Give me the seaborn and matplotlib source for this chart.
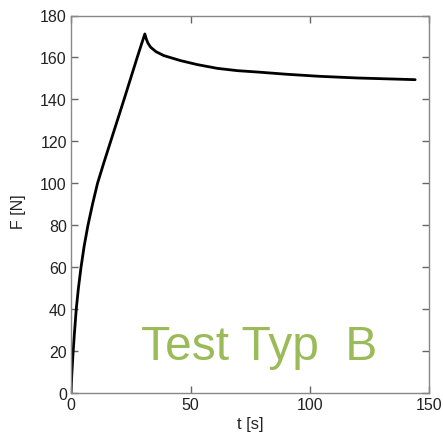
import pandas as pd
import seaborn as sns
import matplotlib.pyplot as plt

# values
t = [0, 0.3, 0.8, 1.4, 2.2, 3.1, 4.2, 5.5, 7.1, 9.0, 11.1, 13.8, 16.6, 22.2, 27.7,
     30.2, 30.9, 31.5, 32.2, 33.3, 35.5, 38.8, 45.8, 52.8, 61.2, 69.6, 78.6,
     90.0, 104.0, 120.0, 135.0, 144.0]
force = [0, 8, 18, 28, 40, 50, 60, 70, 80, 90, 100, 110, 120, 140, 160,
         168.8, 171.2, 168.8, 166.8, 164.9, 162.8, 160.9, 158.5, 156.6, 154.8, 153.7, 153.0,
         152.0, 151.0, 150.2, 149.7, 149.4]
x_ticks = [0, 50, 100, 150]
y_ticks = [0, 20, 40, 60, 80, 100, 120, 140, 160, 180]

df = pd.DataFrame({"t": t, "F": force})

sns.set_style("white", {"xtick.bottom": True, "ytick.left": True})
plt.rcParams["font.family"] = ["Liberation Sans", "DejaVu Sans"]

fig = plt.figure(figsize=(4.43, 4.35), dpi=100)
ax = fig.add_axes([71 / 443, 41 / 435, 358.5 / 443, 377.5 / 435])

sns.lineplot(data=df, x="t", y="F", color="black", linewidth=2.0, ax=ax,
             estimator=None, sort=False)

ax.set_xlim(0, 150)
ax.set_ylim(0, 180)
ax.set_xticks(x_ticks)
ax.set_yticks(y_ticks)
ax.tick_params(which="major", direction="in", length=5, width=1.0,
               color="#666666", labelcolor="#222222", labelsize=11.5,
               bottom=True, left=True, top=True, right=True, pad=3)
for s in ax.spines.values():
    s.set_color("#888888")
    s.set_linewidth(1.0)

ax.set_xlabel("t [s]", fontsize=12, color="#222222")
ax.set_ylabel("F [N]", fontsize=11.5, color="#222222")
ax.xaxis.set_label_coords(0.5, -0.062)
ax.yaxis.set_label_coords(-0.125, 0.483)

ax.text(0.195, 0.09, "Test Typ  B", transform=ax.transAxes, fontsize=34.5,
        color="#9BBB59")

fig.savefig("out.png", dpi=100)
